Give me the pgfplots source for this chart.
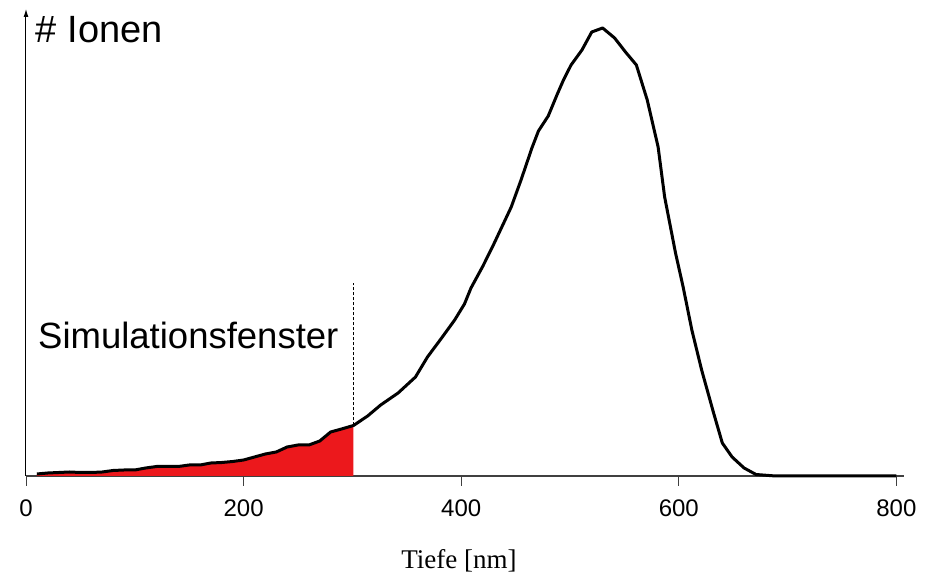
\documentclass[border=0pt]{standalone}
\usepackage{fontspec}
\setmainfont{Liberation Serif}
\setsansfont{Liberation Sans}
\usepackage{pgfplots}
\pgfplotsset{compat=1.18}
\usetikzlibrary{arrows.meta}
\definecolor{fillred}{RGB}{236,24,28}
\begin{document}
\begin{tikzpicture}
\path[use as bounding box] (-26pt,-101pt) rectangle (909pt,476pt);
\begin{axis}[
  scale only axis,
  width=878pt, height=467pt,
  xmin=0, xmax=807, ymin=0, ymax=467,
  clip=false,
  axis x line*=bottom,
  axis y line*=left,
  x axis line style={draw=black!75, line width=1.1pt},
  y axis line style={draw=black, line width=1pt, -{Latex[length=8pt,width=5pt]}},
  ytick=\empty,
  xtick={0,200,400,600,800},
  tick align=outside,
  major tick length=10pt,
  tick style={draw=black!75, line width=0.8pt},
  /pgf/number format/assume math mode=true,
  ticklabel style={font=\sffamily\fontsize{24}{24}\selectfont},
  xticklabel style={anchor=base, yshift=-31pt},
]
\addplot[fill=fillred, draw=none] coordinates {
(10,0) (10,2) (20,3) (30,3.5) (40,4) (50,3.5) (60,3.5) (70,4) (80,5.5) (90,6) (100,6)
(110,8) (120,9.5) (130,9.5) (140,9.5) (150,11) (160,11) (170,13) (180,13.5) (190,14.5)
(200,16) (210,19) (220,22) (230,24) (240,29) (250,31) (260,31) (270,35) (280,44)
(290,47) (301,50.5) (301,0)} -- cycle;
\addplot[black, line width=0.8pt, densely dashed] coordinates {(301,50.5) (301,193)};
\addplot[black, line width=3pt, line join=round] coordinates {
(10,2) (20,3) (30,3.5) (40,4) (50,3.5) (60,3.5) (70,4) (80,5.5) (90,6) (100,6)
(110,8) (120,9.5) (130,9.5) (140,9.5) (150,11) (160,11) (170,13) (180,13.5) (190,14.5)
(200,16) (210,19) (220,22) (230,24) (240,29) (250,31) (260,31) (270,35) (280,44)
(290,47) (301,50.5) (314,60) (326,71) (342,83) (358,99) (369,119) (382,138) (394,156)
(403,172) (409,188) (420,210) (430,232) (446,269) (455,296) (465,328) (471,345)
(480,360) (488,381) (494,396) (501,411) (511,426) (520,444) (530,448) (541,438)
(551,424) (561,411) (571,376) (581,329) (587,279) (597,223) (604,189) (612,146)
(621,106) (632,63) (640,33) (649,19) (660,8) (671,1.5) (689,0) (700,0) (800,0)};
\node[anchor=base west, inner sep=0pt, font=\sffamily\fontsize{38}{40}\selectfont] at (axis cs:9,433) {\# Ionen};
\node[anchor=base west, inner sep=0pt, font=\sffamily\fontsize{36.5}{40}\selectfont] at (axis cs:11,127) {Simulationsfenster};
\node[anchor=base, inner sep=0pt, font=\fontsize{27}{30}\selectfont] at (axis cs:398,-93) {Tiefe [nm]};
\end{axis}
\end{tikzpicture}
\end{document}
